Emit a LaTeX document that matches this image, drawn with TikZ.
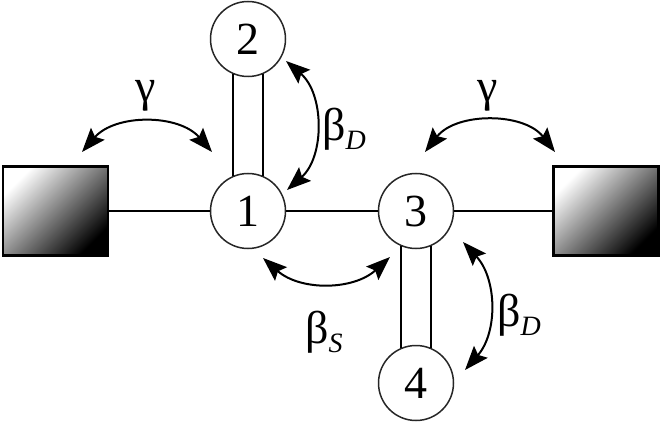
\documentclass[tikz,border=0pt]{standalone}
\usepackage{fontspec}
\setmainfont{Liberation Serif}
\usetikzlibrary{arrows.meta}
\def\sub#1{\raisebox{-9pt}{\fontsize{28}{28}\selectfont\itshape #1}}

\begin{document}
\begin{tikzpicture}[x=1pt,y=-1pt,
  site/.style={circle,draw=black!85,line width=1.5pt,minimum size=75pt,inner sep=0pt,font=\fontsize{46}{46}\selectfont},
  lead/.style={draw,line width=2.2pt,top color=white,bottom color=black,shading angle=45,minimum width=105pt,minimum height=89pt,inner sep=0pt},
  hop/.style={line width=2pt,{Stealth[length=24pt,width=18pt,inset=4pt]}-{Stealth[length=24pt,width=18pt,inset=4pt]}},
  lbl/.style={inner sep=0pt,anchor=base west,font=\fontsize{46}{46}\selectfont}]
\useasboundingbox (0,0) rectangle (661,425);
% leads and sites
\node[lead] (lbox) at (55.5,211) {};
\node[lead] (rbox) at (606,211) {};
\node[site] (n1) at (248,211) {1};
\node[site] (n2) at (248,39) {2};
\node[site] (n3) at (416,211) {3};
\node[site] (n4) at (416,383) {4};
\draw[line width=1.8pt] (lbox) -- (n1) -- (n3) -- (rbox);
\draw[line width=1.8pt] (n1.113) -- (n2.247) (n1.67) -- (n2.293);
\draw[line width=1.8pt] (n3.247) -- (n4.113) (n3.293) -- (n4.67);
% couplings
\coordinate (gl1) at (82,152); \coordinate (gl2) at (212,152);
\coordinate (gr1) at (425,152); \coordinate (gr2) at (555,152);
\coordinate (du1) at (286,61); \coordinate (du2) at (287,190);
\coordinate (ds1) at (263,258); \coordinate (ds2) at (390,257);
\coordinate (dl1) at (463,242); \coordinate (dl2) at (465,370);
\draw[hop] (gl1) to[bend left=49] (gl2);
\draw[hop] (gr1) to[bend left=52] (gr2);
\draw[hop] (du1) to[bend left=49] (du2);
\draw[hop] (ds1) to[bend right=42] (ds2);
\draw[hop] (dl1) to[bend left=42] (dl2);
\node[lbl] (tgl) at (135,102) {γ};
\node[lbl] (tgr) at (477,102) {γ};
\node[lbl] (tdu) at (322,141) {β\sub{D}};
\node[lbl] (tds) at (305,343) {β\sub{S}};
\node[lbl] (tdl) at (497,326) {β\sub{D}};
\end{tikzpicture}
\end{document}
